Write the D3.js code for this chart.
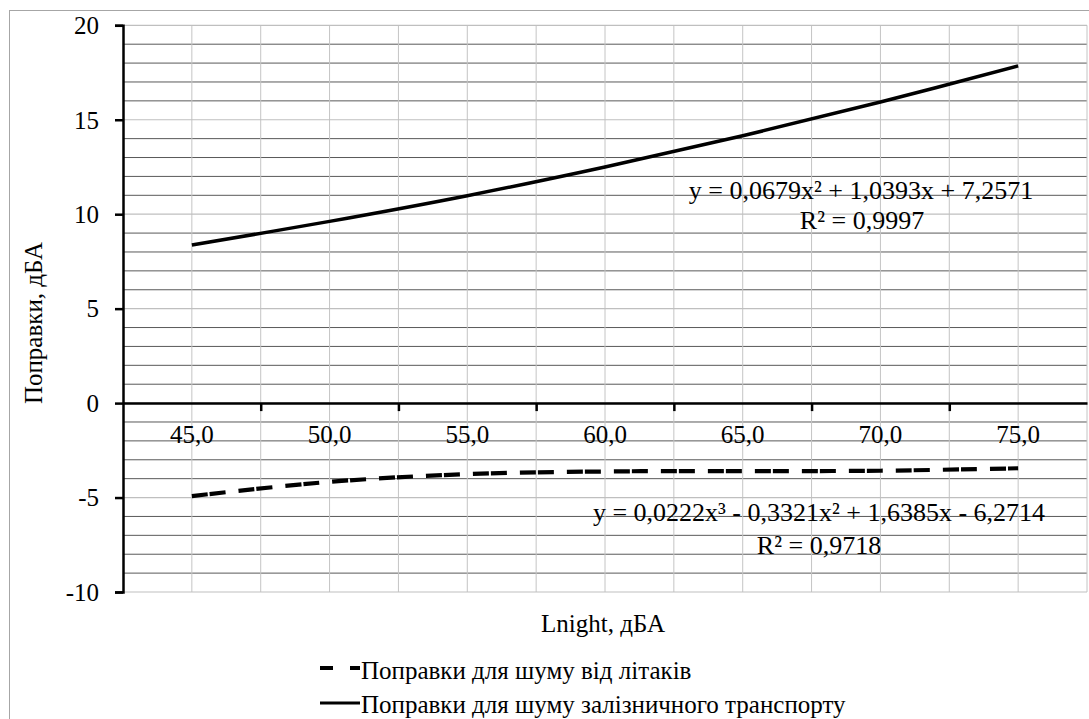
<!DOCTYPE html>
<html><head><meta charset="utf-8">
<script src="https://cdn.jsdelivr.net/npm/d3@7"></script>
</head>
<body style="margin:0;padding:0;background:#fff">
<svg id="chart" width="1089" height="719" style="display:block"></svg>
<script>
// ---- data ----
const categories = [45, 50, 55, 60, 65, 70, 75];
const aircraft = [-4.92, -4.17, -3.76, -3.62, -3.6, -3.58, -3.45];
const railway = [8.37, 9.62, 10.98, 12.5, 14.15, 15.94, 17.85];
const yTicks = [20, 15, 10, 5, 0, -5, -10];
const xTickLabels = ["45,0", "50,0", "55,0", "60,0", "65,0", "70,0", "75,0"];
const seriesNames = ["Поправки для шуму від літаків", "Поправки для шуму залізничного транспорту"];
const trendRail = ["y = 0,0679x² + 1,0393x + 7,2571", "R² = 0,9997"];
const trendAir = ["y = 0,0222x³ - 0,3321x² + 1,6385x - 6,2714", "R² = 0,9718"];

const FONT = "'Liberation Serif'";
const FS = "25px";
const svg = d3.select("#chart");
const L = 123, R = 1087, T = 25.3, B = 592;
const x = d3.scaleLinear().domain([42.5, 77.5]).range([L, R]);
const y = d3.scaleLinear().domain([-10, 20]).range([B, T]);

function txt(sel, fs) { return sel.style("font-family", FONT).style("font-size", fs || FS).attr("fill", "#000"); }

// outer border
svg.append("rect").attr("x", 9.5).attr("y", 10.5).attr("width", 1100).attr("height", 720)
  .attr("fill", "none").attr("stroke", "#a6a6a6").attr("stroke-width", 1);

// minor horizontal gridlines (every 1)
const minor = d3.range(-10, 21, 1).filter(v => v % 5 !== 0);
svg.append("g").selectAll("line").data(minor).join("line")
  .attr("x1", L).attr("x2", R).attr("y1", d => y(d)).attr("y2", d => y(d))
  .attr("stroke", "#595959").attr("stroke-width", 1);
// vertical gridlines (every 2.5)
const vgrid = d3.range(45, 77.6, 2.5);
svg.append("g").selectAll("line").data(vgrid).join("line")
  .attr("x1", d => x(d)).attr("x2", d => x(d)).attr("y1", T).attr("y2", B)
  .attr("stroke", "#c4c4c4").attr("stroke-width", 1);
// major horizontal gridlines
svg.append("g").selectAll("line").data(yTicks).join("line")
  .attr("x1", L).attr("x2", R).attr("y1", d => y(d)).attr("y2", d => y(d))
  .attr("stroke", "#bfbfbf").attr("stroke-width", 1.2);

// y axis
const yAxis = d3.axisLeft(y).tickValues(yTicks).tickSize(8).tickFormat(d => d);
const gy = svg.append("g").attr("transform", `translate(${L},0)`).call(yAxis);
gy.attr("font-family", null).attr("font-size", null);
gy.select(".domain").attr("stroke", "#000").attr("stroke-width", 2.5);
gy.selectAll(".tick line").attr("stroke", "#000").attr("stroke-width", 2.5);
txt(gy.selectAll(".tick text")).attr("x", -24).attr("dy", "0.33em");

// x axis at y=0
const xTickPos = d3.range(47.5, 75, 5);
const xAxis = d3.axisBottom(x).tickValues(xTickPos).tickSize(8).tickFormat("").tickSizeOuter(0);
const gx = svg.append("g").attr("transform", `translate(0,${y(0)})`).call(xAxis);
gx.select(".domain").attr("stroke", "#000").attr("stroke-width", 2.5);
gx.selectAll(".tick line").attr("stroke", "#000").attr("stroke-width", 2.5);
txt(svg.append("g").selectAll("text").data(categories).join("text")
  .attr("x", d => x(d)).attr("y", y(0) + 40).attr("text-anchor", "middle"))
  .text((d, i) => xTickLabels[i]);

// lines
const line = d3.line().x((d, i) => x(categories[i])).y(d => y(d)).curve(d3.curveCatmullRom);
svg.append("path").datum(railway).attr("d", line).attr("fill", "none")
  .attr("stroke", "#000").attr("stroke-width", 3.5);
svg.append("path").datum(aircraft).attr("d", line).attr("fill", "none")
  .attr("stroke", "#000").attr("stroke-width", 4.2)
  .attr("stroke-dasharray", "16,2,16,13");

// trendline labels
const EQ = "26px";
const eq = svg.append("g");
txt(eq.append("text").attr("x", 861).attr("y", 199).attr("text-anchor", "middle"), EQ).text(trendRail[0]);
txt(eq.append("text").attr("x", 862).attr("y", 228.5).attr("text-anchor", "middle"), EQ).text(trendRail[1]);
txt(eq.append("text").attr("x", 819).attr("y", 521).attr("text-anchor", "middle"), EQ).text(trendAir[0]);
txt(eq.append("text").attr("x", 819).attr("y", 554).attr("text-anchor", "middle"), EQ).text(trendAir[1]);

// axis titles
txt(svg.append("text").attr("x", 603).attr("y", 632).attr("text-anchor", "middle")).text("Lnight, дБА");
txt(svg.append("text").attr("transform", "translate(42,323) rotate(-90)").attr("text-anchor", "middle"))
  .text("Поправки, дБА");

// legend
const lg = svg.append("g");
lg.append("line").attr("x1", 320).attr("x2", 360).attr("y1", 668).attr("y2", 668)
  .attr("stroke", "#000").attr("stroke-width", 4.2).attr("stroke-dasharray", "13,17,10");
txt(lg.append("text").attr("x", 361).attr("y", 679)).text(seriesNames[0]);
lg.append("line").attr("x1", 320).attr("x2", 360).attr("y1", 703).attr("y2", 703)
  .attr("stroke", "#000").attr("stroke-width", 3.2);
txt(lg.append("text").attr("x", 361).attr("y", 713)).text(seriesNames[1]);
</script>
</body></html>
